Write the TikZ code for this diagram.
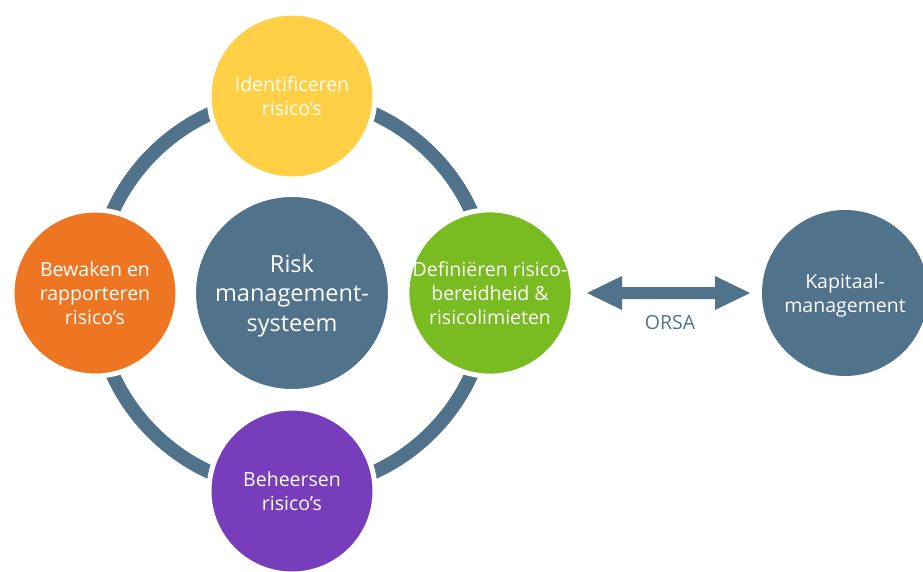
\documentclass[tikz,border=0pt]{standalone}
\usepackage{fontspec}
\setmainfont{Open Sans}
\usetikzlibrary{calc}
\definecolor{slate}{HTML}{50728B}
\definecolor{cyellow}{HTML}{FFD046}
\definecolor{corange}{HTML}{EE7623}
\definecolor{cgreen}{HTML}{78BC21}
\definecolor{cpurple}{HTML}{783DBB}
\tikzset{
  blob/.style={circle, draw=white, line width=5pt, minimum size=166pt, inner sep=0pt, align=center, text=white, text depth=0pt, font=\fontsize{19.5}{24}\selectfont},
  bigblob/.style={blob, minimum size=197pt, font=\fontsize{23.5}{29.5}\selectfont},
}
\begin{document}
\begin{tikzpicture}[x=1pt,y=-1pt]
\useasboundingbox (0,0) rectangle (923,571);
\coordinate (rc) at (292,293);
\draw[slate, line width=14pt] (rc) circle (197);
\node[bigblob, fill=slate] (risk) at (292,293) {Risk\\management-\\systeem};
\node[blob, fill=cyellow] (ident) at (292,96) {Identificeren\\risico’s};
\node[blob, fill=corange] (bew) at (95,293) {Bewaken en\\rapporteren\\risico’s};
\node[blob, fill=cgreen] (def) at (490,293) {Definiëren risico-\\bereidheid \&\\risicolimieten};
\node[blob, fill=cpurple] (beh) at (292,491) {Beheersen\\risico’s};
\node[blob, fill=slate, draw=none] (kap) at (845,293) {Kapitaal-\\management};
\coordinate (aL) at (587,293);
\coordinate (aR) at (750,293);
\fill[slate] (aL) -- ++(35,-17) -- ++(0,11) -- ($(aR)+(-35,-6)$) -- ++(0,-11) -- (aR) -- ++(-35,17) -- ++(0,-11) -- ($(aL)+(35,6)$) -- ++(0,11) -- cycle;
\node[text=slate, font=\fontsize{19.5}{22}\selectfont] (orsa) at (670,323) {ORSA};
\end{tikzpicture}
\end{document}
